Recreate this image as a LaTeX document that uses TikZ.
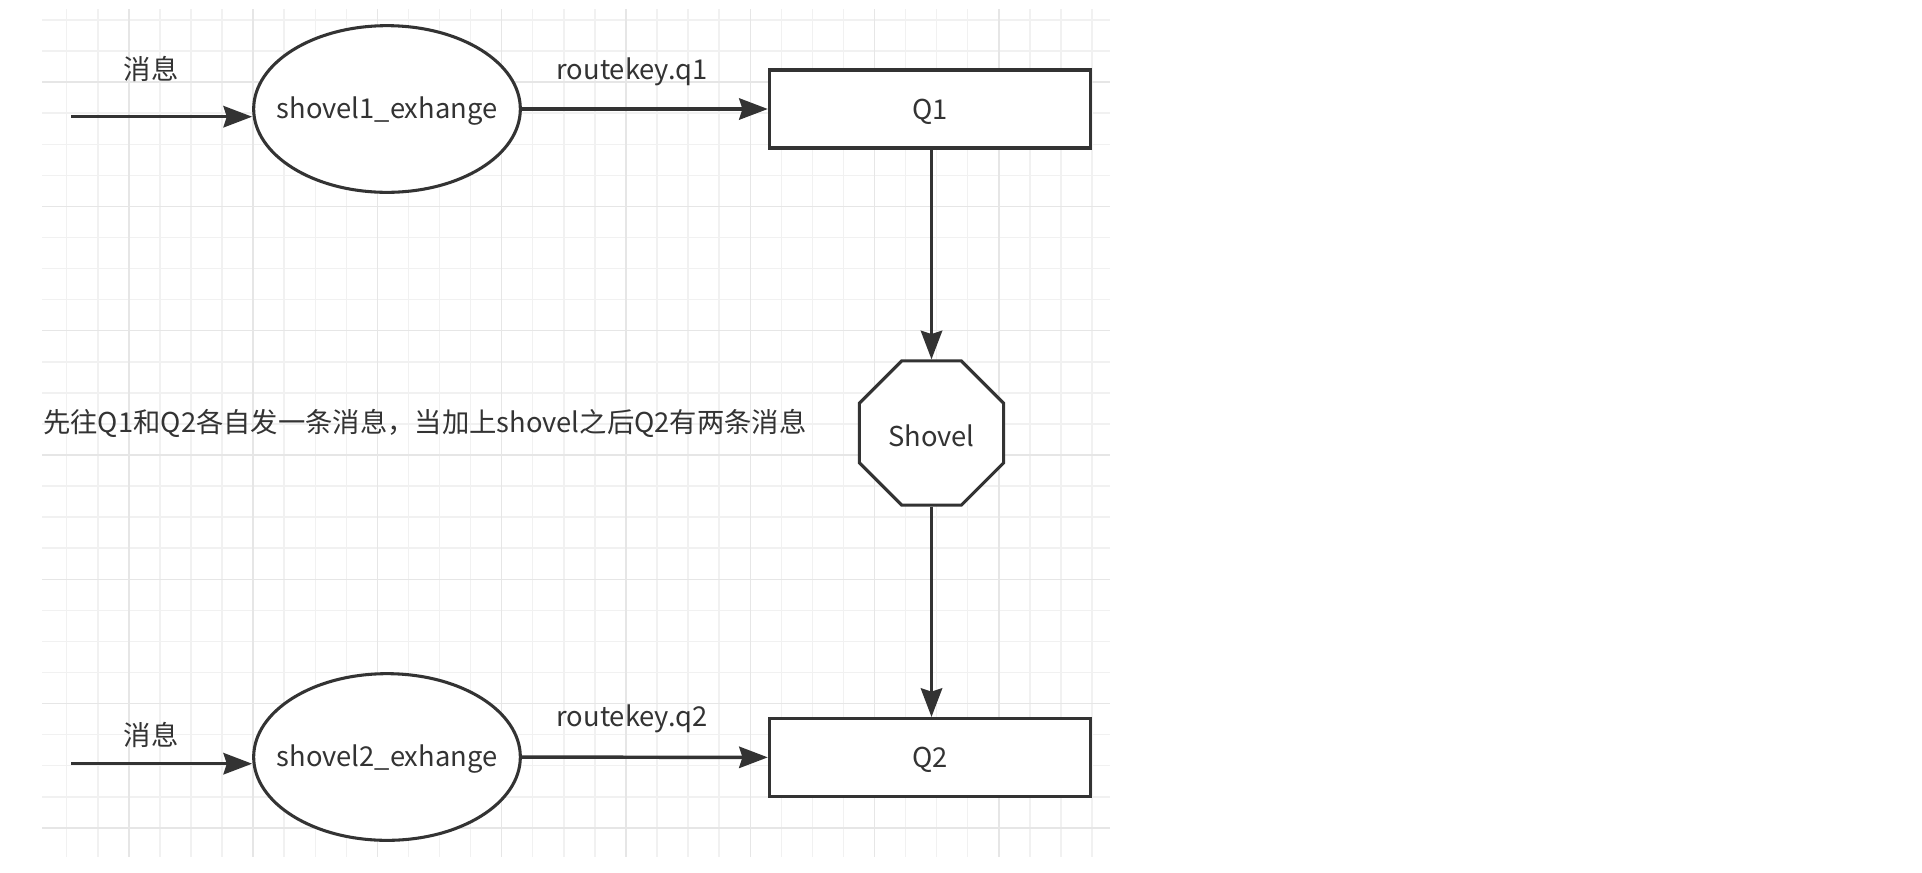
\documentclass[tikz,border=0pt]{standalone}
\usepackage{fontspec}
\setmainfont{Noto Sans CJK SC}
\usetikzlibrary{shapes.geometric,arrows.meta}
\definecolor{ink}{HTML}{333333}
\definecolor{gridminor}{HTML}{F1F1F1}
\definecolor{gridmajor}{HTML}{E6E6E6}
\tikzset{
  exch/.style={ellipse,draw=ink,line width=2.3pt,fill=white,minimum width=200pt,minimum height=125pt,inner sep=0pt},
  queue/.style={rectangle,draw=ink,line width=2.3pt,fill=white,minimum width=241pt,minimum height=58.5pt,inner sep=0pt},
  shov/.style={regular polygon,regular polygon sides=8,draw=ink,line width=2.3pt,fill=white,minimum size=117pt,inner sep=0pt},
  lbl/.style={text=ink,inner sep=0pt},
  inlbl/.style={text=ink,inner sep=0pt,yshift=-1.8pt},
  flow/.style={draw=ink,line width=2.6pt,-{Stealth[length=21.5pt,width=16pt,inset=2.5pt]}},
}
\begin{document}
\begin{tikzpicture}[x=0.75pt,y=-0.75pt,font=\fontsize{20.5pt}{25pt}\selectfont]
\fill[white] (0,0) rectangle (1922,872);
\useasboundingbox (0,0) rectangle (1922,872);
% grid
\foreach \k in {0,...,33}{
  \pgfmathsetmacro\gx{66.7+31.07*\k}
  \draw[gridminor,line width=1.1pt] (\gx,9) -- (\gx,857);
}
\foreach \k in {0,...,26}{
  \pgfmathsetmacro\gy{20+31.07*\k}
  \draw[gridminor,line width=1.1pt] (42,\gy) -- (1110,\gy);
}
\foreach \k in {2,6,...,30}{
  \pgfmathsetmacro\gx{66.7+31.07*\k}
  \draw[gridmajor,line width=1.1pt] (\gx,9) -- (\gx,857);
}
\foreach \k in {2,6,...,26}{
  \pgfmathsetmacro\gy{20+31.07*\k}
  \draw[gridmajor,line width=1.1pt] (42,\gy) -- (1110,\gy);
}
% nodes
\node[exch,label={[inlbl]center:shovel1\_exhange}] (e1) at (387,109) {};
\node[exch,label={[inlbl]center:shovel2\_exhange}] (e2) at (387,757) {};
\node[queue,label={[inlbl]center:Q1}] (q1) at (930,109) {};
\node[queue,label={[inlbl]center:Q2}] (q2) at (930,757.5) {};
\node[shov,label={[inlbl]center:Shovel}] (sh) at (931.5,433) {};
% labels
\node[lbl] (m1) at (151,69) {消息};
\node[lbl] (m2) at (151,735) {消息};
\node[lbl] (r1) at (632,71.5) {routekey.q1};
\node[lbl] (r2) at (632,718.5) {routekey.q2};
\node[lbl,anchor=west] (note) at (43,423) {先往Q1和Q2各自发一条消息，当加上shovel之后Q2有两条消息};
% connectors
\coordinate (in1) at (71,116.7);
\coordinate (in2) at (71,763.7);
\draw[flow] (in1) -- (in1 -| e1.west);
\draw[flow] (in2) -- (in2 -| e2.west);
\draw[flow] (e1) -- (q1);
\draw[flow] (e2) -- (q2);
\draw[flow] (sh |- q1.south) -- (sh.north);
\draw[flow] (sh.south) -- (sh |- q2.north);
\end{tikzpicture}
\end{document}
